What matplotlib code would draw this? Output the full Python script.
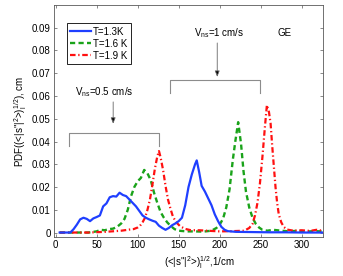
import matplotlib
matplotlib.use("Agg")
import matplotlib.pyplot as plt

plt.rcParams['font.family'] = ['Liberation Sans', 'DejaVu Sans']
plt.rcParams['mathtext.fontset'] = 'custom'
plt.rcParams['mathtext.rm'] = 'Liberation Sans'
plt.rcParams['mathtext.it'] = 'Liberation Sans'
plt.rcParams['mathtext.default'] = 'regular'

# ---- data ----
x_13 = [5, 10, 15, 18, 22, 26, 30, 34, 38, 42, 46, 50, 54, 58, 62, 66, 70, 74, 78, 82, 86, 90, 94, 98,
        102, 106, 110, 114, 118, 122, 126, 130, 134, 138, 142, 146, 150, 154, 158, 162, 166, 170, 172,
        175, 178, 182, 186, 190, 194, 198, 202, 206, 210, 220, 240, 260, 280, 300, 325]
y_13 = [0, 0, 0, 0, 0.0015, 0.0035, 0.0058, 0.0065, 0.0060, 0.0050, 0.0062, 0.0068, 0.0075, 0.0115,
        0.0128, 0.0155, 0.0160, 0.0158, 0.0175, 0.0165, 0.0160, 0.0145, 0.0130, 0.0115, 0.0095, 0.0075,
        0.0065, 0.0058, 0.0052, 0.0047, 0.0030, 0.0020, 0.0012, 0.0020, 0.0032, 0.0040, 0.0050, 0.0065,
        0.0120, 0.0200, 0.0255, 0.0300, 0.0317, 0.0265, 0.0205, 0.0180, 0.0150, 0.0120, 0.0080, 0.0050,
        0.0025, 0.0012, 0.0006, 0.0003, 0.0002, 0.0001, 0.0001, 0, 0]

x_16 = [5, 20, 40, 50, 55, 60, 65, 70, 75, 80, 84, 88, 92, 96, 100, 104, 108, 112, 116, 120, 124, 128,
        132, 136, 140, 145, 150, 160, 170, 180, 190, 196, 200, 204, 208, 212, 216, 219, 222.5, 226, 229,
        232, 236, 240, 244, 248, 252, 258, 265, 275, 285, 295, 305, 315, 325]
y_16 = [0, 0, 0, 0.0005, 0.0012, 0.0010, 0.0015, 0.0017, 0.0025, 0.0040, 0.0060, 0.0100, 0.0160, 0.0200,
        0.0225, 0.0240, 0.0275, 0.0260, 0.0230, 0.0175, 0.0130, 0.0090, 0.0065, 0.0045, 0.0030, 0.0015,
        0.0008, 0.0005, 0.0005, 0.0004, 0.0008, 0.0020, 0.0035, 0.0060, 0.0110, 0.0190, 0.0320, 0.0400,
        0.0485, 0.0390, 0.0270, 0.0180, 0.0110, 0.0065, 0.0038, 0.0022, 0.0012, 0.0008, 0.0012, 0.0008,
        0.0005, 0.0008, 0.0004, 0.0006, 0.0005]

x_19 = [5, 20, 40, 60, 80, 90, 95, 100, 103, 106, 109, 112, 115, 118, 121, 124, 126, 128, 131, 134, 137,
        140, 143, 147, 152, 158, 165, 175, 185, 200, 215, 230, 236, 240, 243, 246, 249, 252, 255, 257.5,
        260, 262, 264, 266, 268, 270, 272, 275, 278, 282, 290, 300, 310, 318, 325]
y_19 = [0, 0, 0, 0.0003, 0.0008, 0.0013, 0.0015, 0.0022, 0.0030, 0.0045, 0.0065, 0.0100, 0.0145, 0.0210,
        0.0280, 0.0335, 0.0358, 0.0330, 0.0275, 0.0205, 0.0145, 0.0105, 0.0070, 0.0045, 0.0027, 0.0016,
        0.0010, 0.0010, 0.0008, 0.0005, 0.0006, 0.0008, 0.0020, 0.0038, 0.0075, 0.0130, 0.0215, 0.0330,
        0.0460, 0.0560, 0.0530, 0.0480, 0.0380, 0.0290, 0.0200, 0.0130, 0.0080, 0.0045, 0.0025, 0.0013,
        0.0008, 0.0010, 0.0007, 0.0012, 0.0008]

labels = ['T=1.3K', 'T=1.6 K', 'T=1.9 K']
xticks = [0, 50, 100, 150, 200, 250, 300]
yticks = [0, 0.01, 0.02, 0.03, 0.04, 0.05, 0.06, 0.07, 0.08, 0.09]
ytick_labels = ['0', '0.01', '0.02', '0.03', '0.04', '0.05', '0.06', '0.07', '0.08', '0.09']

# ---- figure ----
fig = plt.figure(figsize=(3.43, 2.76), dpi=100)
ax = fig.add_axes([0.156, 0.141, 0.786, 0.841])

ax.plot(x_13, y_13, color='#1f3fff', lw=1.6, ls='-', label=labels[0], zorder=3)
ax.plot(x_16, y_16, color='#1aa31a', lw=1.7, ls=(0, (2.2, 1.4)), label=labels[1], zorder=2)
ax.plot(x_19, y_19, color='#ff1010', lw=1.6, ls=(0, (2.5, 1.2, 0.6, 1.2)), label=labels[2], zorder=2)

ax.set_xlim(-2.5, 326)
ax.set_ylim(-0.002, 0.1)
ax.set_xticks(xticks)
ax.set_yticks(yticks)
ax.set_yticklabels(ytick_labels)
ax.tick_params(direction='in', length=2.5, width=0.5, top=True, right=True,
               labelsize=7, colors='0.35', labelcolor='black', pad=2)
for s in ax.spines.values():
    s.set_linewidth(0.6)
    s.set_color('0.35')

ax.set_xlabel('(<|s"|$^{2}$>)$_{l}^{1/2}$,1/cm', fontsize=7, labelpad=1)
ax.xaxis.set_label_coords(0.54, -0.075)
ax.set_ylabel('PDF((<|s"|$^{2}$>)$_{l}^{1/2}$), cm', fontsize=7, labelpad=2)

leg = ax.legend(loc='upper left', bbox_to_anchor=(0.049, 0.921), borderaxespad=0,
                fontsize=7, handlelength=2.1, handletextpad=0.25, labelspacing=0.2,
                borderpad=0.35, fancybox=False, framealpha=1)
leg.get_frame().set_edgecolor('black')
leg.get_frame().set_linewidth(0.6)

# brackets
bc = '0.55'
ax.plot([16.5, 16.5, 126, 126], [0.038, 0.0436, 0.0436, 0.038], color=bc, lw=0.8)
ax.plot([140, 140, 249, 249], [0.0613, 0.067, 0.067, 0.0613], color=bc, lw=0.8)

# arrows
ap = dict(arrowstyle='-|>,head_length=0.35,head_width=0.14', ec='0.4', fc='black',
          lw=0.6, shrinkA=0, shrinkB=0)
ax.annotate('', xy=(70.2, 0.0478), xytext=(70.2, 0.0574), arrowprops=ap)
ax.annotate('', xy=(197, 0.0684), xytext=(197, 0.0833), arrowprops=ap)

ax.text(23.5, 0.0615, r"V$_{ns}$=0.5 cm/s", fontsize=7, va='center', ha='left')
ax.text(169, 0.0876, r"V$_{ns}$=1 cm/s", fontsize=7, va='center', ha='left')
ax.text(271, 0.0876, "GE", fontsize=7, va='center', ha='left')

fig.savefig('out.png', dpi=100)
